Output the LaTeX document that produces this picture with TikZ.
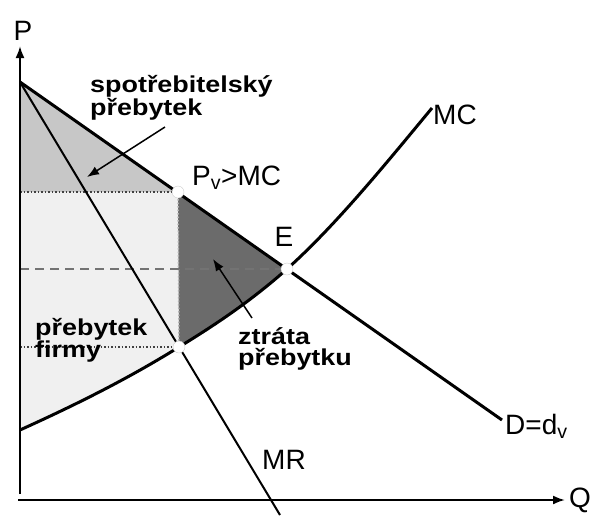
\documentclass[tikz,border=0pt]{standalone}
\usepackage{fontspec}
\setmainfont{Liberation Sans}
\newfontfamily\wordfont{Liberation Sans}[FakeStretch=1.17]
\usetikzlibrary{arrows.meta}

\begin{document}
\begin{tikzpicture}[x=1pt, y=-1pt,
        dot/.style={circle, draw=black!20, fill=white, inner sep=0pt, minimum size=12pt},
        lbl/.style={inner sep=0pt, font=\fontsize{28}{30}\selectfont},
        word/.style={inner sep=0pt, align=left, font=\wordfont\bfseries\fontsize{23}{21}\selectfont},
        tip/.style={-{Latex[length=12pt, width=9pt]}}]
    \useasboundingbox (0, 0) rectangle (590, 515);

    \coordinate (ya) at (20, 494);
    \coordinate (yb) at (20, 46);
    \coordinate (xa) at (18, 500);
    \coordinate (xb) at (565, 500);
    \coordinate (top) at (20, 82);
    \coordinate (pvl) at (20, 192);
    \coordinate (el) at (20, 269);
    \coordinate (fl) at (20, 347);
    \coordinate (mc0) at (20, 430);
    \coordinate (pv) at (178, 192);
    \coordinate (f) at (179, 347);
    \coordinate (e) at (287, 269);
    \coordinate (mc1) at (432, 108);
    \coordinate (d1) at (502, 420);
    \coordinate (mr1) at (280, 515);

    % areas
    \fill[black!22] (top) -- (pv) -- (pvl) -- cycle;
    \fill[black!6] (pvl) -- (pv) -- (f) .. controls (126, 380) and (73, 406) .. (mc0) -- cycle;
    \fill[black!58] (pv) -- (e) .. controls (251, 301) and (215, 325) .. (f) -- cycle;

    \draw[black!75, dotted, line width=1.5pt] (pvl) -- (pv)
        (fl) -- (f);
    \draw[black!30, dotted, line width=1.5pt] (pv) -- (f);
    \draw[black!55, dash pattern=on 9pt off 6pt, line width=1.5pt] (el) -- (e);

    % curves
    \draw[line width=2pt] (top) -- (mr1);
    \draw[line width=3pt] (top) -- (d1);
    \draw[line width=3pt] (mc0) .. controls (73, 406) and (126, 380) .. (f)
        .. controls (215, 325) and (251, 301) .. (e)
        .. controls (335, 226) and (384, 166) .. (mc1);

    % axes
    \draw[line width=2pt, tip] (ya) -- (yb);
    \draw[line width=2pt, tip] (xa) -- (xb);

    \node[dot] (pvdot) at (pv) {};
    \node[dot] (fdot) at (f) {};
    \node[dot] (edot) at (e) {};

    \node[lbl] (p) at (23, 31) {P};
    \node[lbl] (q) at (580, 500) {Q};
    \node[lbl, anchor=west] (pvmc) at (192, 178) {P\textsubscript{v}>MC};
    \node[lbl] (elab) at (284, 237) {E};
    \node[lbl, anchor=west] (mc) at (433, 115) {MC};
    \node[lbl, anchor=west] (d) at (505, 426) {D=d\textsubscript{v}};
    \node[lbl] (mr) at (284, 460) {MR};

    \node[word, anchor=north west] (cs) at (90, 75) {spotřebitelský\\přebytek};
    \node[word, anchor=north west] (fs) at (35, 318) {přebytek\\firmy};
    \node[word, anchor=north west] (loss) at (238, 327) {ztráta\\přebytku};

    \coordinate (csa) at (165, 127);
    \coordinate (csb) at (87, 177);
    \coordinate (lossa) at (252, 318);
    \coordinate (lossb) at (213, 259);
    \draw[line width=1.5pt, tip] (csa) -- (csb);
    \draw[line width=1.5pt, tip] (lossa) -- (lossb);
\end{tikzpicture}
\end{document}
